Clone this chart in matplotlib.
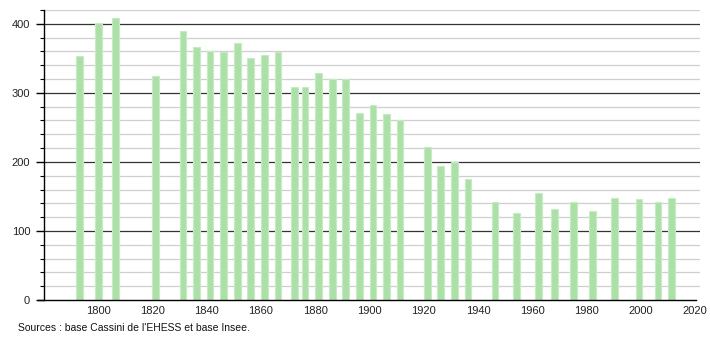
import matplotlib
matplotlib.use("Agg")
import matplotlib.pyplot as plt
from matplotlib.ticker import MultipleLocator

years = [1793, 1800, 1806, 1821, 1831, 1836, 1841, 1846, 1851, 1856, 1861, 1866,
         1872, 1876, 1881, 1886, 1891, 1896, 1901, 1906, 1911, 1921, 1926, 1931,
         1936, 1946, 1954, 1962, 1968, 1975, 1982, 1990, 1999, 2006, 2011]
population = [354, 401, 408, 325, 390, 366, 360, 359, 372, 351, 355, 359,
              308, 308, 329, 320, 320, 271, 282, 270, 261, 221, 194, 200,
              175, 142, 126, 155, 132, 142, 129, 148, 146, 142, 148]
x_ticks = [1800, 1820, 1840, 1860, 1880, 1900, 1920, 1940, 1960, 1980, 2000, 2020]
y_ticks = [0, 100, 200, 300, 400]
source_text = "Sources : base Cassini de l'EHESS et base Insee."

plt.rcParams['font.family'] = ['Liberation Sans', 'DejaVu Sans']

fig = plt.figure(figsize=(7.1, 3.4), dpi=100)
ax = fig.add_axes([44/710, 40/340, 656/710, 290/340])

ax.set_xlim(1780.1, 2021.8)
ax.set_ylim(0, 420)

# grid lines
for v in range(20, 421, 20):
    if v % 100 == 0:
        ax.axhline(v, color='#333333', lw=0.9, zorder=1)
    else:
        ax.axhline(v, color='#cfcfcf', lw=0.9, zorder=1)

ax.bar([y + 0.3 for y in years], population, width=2.5, color='#ade0a8',
       edgecolor='#c6ecc2', linewidth=0.8, zorder=2)

for s in ['top', 'right']:
    ax.spines[s].set_visible(False)
ax.spines['left'].set_color('#000000')
ax.spines['left'].set_linewidth(1.0)
ax.spines['bottom'].set_color('#000000')
ax.spines['bottom'].set_linewidth(1.0)
ax.spines['bottom'].set_bounds(1777.9, 2020.3)
ax.spines['bottom'].set_clip_on(False)

ax.set_xticks(x_ticks)
ax.set_xticklabels([str(t) for t in x_ticks], fontsize=8, color='#222222')
ax.tick_params(axis='x', length=0, pad=4)
ax.set_yticks(y_ticks)
ax.set_yticklabels([str(t) for t in y_ticks], fontsize=8, color='#222222')
ax.yaxis.set_minor_locator(MultipleLocator(20))
ax.tick_params(axis='y', which='major', length=6, width=1.0, pad=4)
ax.tick_params(axis='y', which='minor', length=3, width=0.8)

fig.text(18/710, 1 - 328/340, source_text, fontsize=7.5, color='#111111',
         va='center', ha='left')

fig.savefig('out.png', dpi=100)
